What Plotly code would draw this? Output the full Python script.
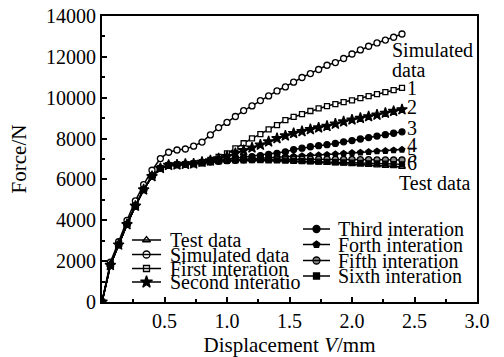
import plotly.graph_objects as go

# Displacement grid (mm) shared by all curves
disp = [0, 0.067, 0.133, 0.2, 0.267, 0.333, 0.4, 0.467, 0.533, 0.6, 0.667, 0.733,
        0.8, 0.867, 0.933, 1.0, 1.067, 1.133, 1.2, 1.267, 1.333, 1.4, 1.467, 1.533,
        1.6, 1.667, 1.733, 1.8, 1.867, 1.933, 2.0, 2.067, 2.133, 2.2, 2.267, 2.333, 2.4]

# Force (N)
test_data = [0, 1800, 2800, 3800, 4700, 5500, 6150, 6550, 6700, 6720, 6750, 6770,
             6800, 6850, 6880, 6910, 6930, 6950, 6960, 6950, 6940, 6930, 6910, 6890,
             6870, 6850, 6830, 6810, 6790, 6770, 6750, 6730, 6710, 6690, 6670, 6650, 6620]
simulated = [0, 1950, 2950, 4000, 4950, 5750, 6450, 7020, 7330, 7440, 7490, 7630,
             7830, 8180, 8540, 8790, 9080, 9370, 9600, 9860, 10090, 10330, 10530, 10760,
             10990, 11180, 11380, 11590, 11720, 11920, 12140, 12340, 12520, 12680, 12820, 12960, 13120]
first_it = [0, 1800, 2800, 3800, 4700, 5500, 6150, 6550, 6700, 6720, 6750, 6770,
            6850, 6950, 7100, 7280, 7520, 7770, 8010, 8220, 8450, 8660, 8900, 9060,
            9200, 9350, 9480, 9590, 9690, 9780, 9870, 9980, 10080, 10180, 10270, 10370, 10480]
second_it = [0, 1800, 2800, 3800, 4700, 5500, 6150, 6550, 6700, 6720, 6750, 6770,
             6850, 6920, 7020, 7130, 7280, 7420, 7550, 7690, 7850, 8010, 8140, 8260,
             8350, 8450, 8530, 8610, 8720, 8830, 8920, 9000, 9080, 9160, 9250, 9340, 9420]
third_it = [0, 1800, 2800, 3800, 4700, 5500, 6150, 6550, 6700, 6720, 6750, 6770,
            6830, 6880, 6930, 6980, 7030, 7080, 7120, 7170, 7220, 7280, 7350, 7460,
            7530, 7600, 7650, 7700, 7760, 7840, 7900, 7980, 8050, 8120, 8190, 8260, 8330]
fourth_it = [0, 1800, 2800, 3800, 4700, 5500, 6150, 6550, 6700, 6720, 6750, 6770,
             6820, 6860, 6900, 6930, 6960, 6990, 7010, 7040, 7060, 7090, 7110, 7130,
             7150, 7170, 7190, 7210, 7240, 7270, 7300, 7320, 7350, 7380, 7400, 7430, 7460]
fifth_it = [0, 1800, 2800, 3800, 4700, 5500, 6150, 6550, 6700, 6720, 6750, 6770,
            6810, 6850, 6890, 6920, 6940, 6960, 6970, 6980, 6980, 6990, 6990, 6990,
            6990, 6990, 6990, 6990, 6980, 6980, 6980, 6970, 6970, 6960, 6960, 6950, 6950]
sixth_it = [0, 1800, 2800, 3800, 4700, 5500, 6150, 6550, 6700, 6720, 6750, 6770,
            6800, 6850, 6890, 6910, 6930, 6940, 6950, 6950, 6940, 6930, 6920, 6910,
            6900, 6890, 6870, 6860, 6850, 6830, 6820, 6810, 6790, 6780, 6770, 6750, 6740]

legend_names = ["Test data", "Simulated data", "First interation", "Second interatio",
                "Third interation", "Forth interation", "Fifth interation", "Sixth interation"]
series = [test_data, simulated, first_it, second_it, third_it, fourth_it, fifth_it, sixth_it]
symbols = ["triangle-up", "circle", "square", "star",
           "circle", "pentagon", "circle", "square"]
fills = ["white", "white", "white", "black", "black", "black", "#888888", "black"]
sizes = [6, 6, 5, 8, 6, 6, 6, 5]

# End-of-curve labels
end_labels = ["Simulated", "data", "1", "2", "3", "4", "5", "6", "Test data"]
end_label_x = [2.30, 2.30, 2.42, 2.42, 2.42, 2.42, 2.42, 2.42, 2.36]
end_label_y = [12330, 11350, 10470, 9540, 8520, 7680, 7200, 6800, 5820]
end_label_size = [20, 20, 20, 20, 20, 20, 20, 20, 20]

FONT = "Liberation Serif"

fig = go.Figure()

for name, vals, sym, fc, sz in zip(legend_names, series, symbols, fills, sizes):
    fig.add_trace(go.Scatter(
        x=disp, y=vals, mode="lines+markers", name=name, showlegend=False,
        line=dict(color="black", width=1.5),
        marker=dict(symbol=sym, size=sz, color=fc,
                    line=dict(color="black", width=1.3)),
    ))

# Plot-area geometry in pixels (used to place the hand-built legend key)
L, R, T, B = 102, 477, 16, 302


def fx(px):
    return (px - L) / (R - L)


def fy(py):
    return (B - py) / (B - T)


# Legend key: two columns of line/marker glyphs with labels
left_rows = [240, 254.5, 268.5, 282]
right_rows = [229, 244.5, 260.5, 276]
key_cols = [(132, 161, 168, left_rows), (303, 330, 336, right_rows)]
k = 0
for x0, x1, xt, rows in key_cols:
    for ry in rows:
        fig.add_shape(type="line", xref="paper", yref="paper",
                      x0=fx(x0), x1=fx(x1), y0=fy(ry), y1=fy(ry),
                      line=dict(color="black", width=1.5))
        fig.add_trace(go.Scatter(
            x=[fx((x0 + x1) / 2)], y=[fy(ry)], xaxis="x2", yaxis="y2",
            mode="markers", showlegend=False, hoverinfo="skip",
            marker=dict(symbol=symbols[k], size=sizes[k] + 1,
                        color=fills[k], line=dict(color="black", width=1.3)),
        ))
        fig.add_annotation(xref="paper", yref="paper", x=fx(xt), y=fy(ry),
                           text=legend_names[k], showarrow=False,
                           xanchor="left", yanchor="middle",
                           font=dict(family=FONT, size=20, color="black"))
        k += 1

for txt, lx, ly, fs in zip(end_labels, end_label_x, end_label_y, end_label_size):
    fig.add_annotation(x=lx, y=ly, text=txt, showarrow=False,
                       xanchor="left", yanchor="middle",
                       font=dict(family=FONT, size=fs, color="black"))

fig.update_layout(
    width=504, height=357,
    margin=dict(l=L, r=504 - R, t=T, b=357 - B),
    paper_bgcolor="white", plot_bgcolor="white",
    font=dict(family=FONT, size=20, color="black"),
    showlegend=False,
    xaxis=dict(
        range=[0, 3.0], tickvals=[0.5, 1.0, 1.5, 2.0, 2.5, 3.0],
        ticktext=["0.5", "1.0", "1.5", "2.0", "2.5", "3.0"],
        tickfont=dict(family=FONT, size=20),
        ticks="inside", ticklen=5, tickwidth=1.5, tickcolor="black",
        minor=dict(dtick=0.25, tick0=0, ticks="inside", ticklen=3, tickcolor="black"),
        showline=True, linecolor="black", linewidth=2, mirror=True,
        showgrid=False, zeroline=False, automargin=False,
        title=dict(text="Displacement <i>V</i>/mm", font=dict(family=FONT, size=21), standoff=10),
    ),
    yaxis=dict(
        range=[0, 14000], dtick=2000, tick0=0, tickformat="d",
        tickfont=dict(family=FONT, size=20),
        ticks="inside", ticklen=5, tickwidth=1.5, tickcolor="black",
        minor=dict(dtick=1000, ticks="inside", ticklen=3, tickcolor="black"),
        showline=True, linecolor="black", linewidth=2, mirror=True,
        showgrid=False, zeroline=False, automargin=False,
        title=dict(text="Force/N", font=dict(family=FONT, size=21), standoff=14),
    ),
    xaxis2=dict(range=[0, 1], overlaying="x", visible=False, fixedrange=True),
    yaxis2=dict(range=[0, 1], overlaying="y", visible=False, fixedrange=True),
)

fig.write_html("out.html")
